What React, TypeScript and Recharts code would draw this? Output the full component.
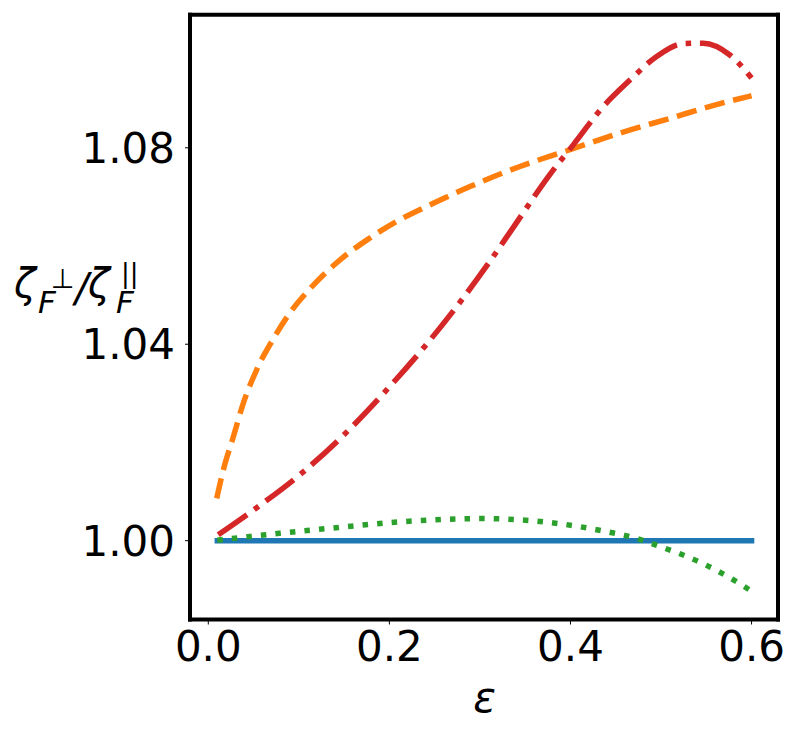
import React from 'react';
import { LineChart, Line, XAxis, YAxis } from 'recharts';

// ε values and ratio values for each curve
const blueX = [0.01, 0.6];
const blueY = [1.0, 1.0];

const orangeX = [0.0093, 0.0166, 0.0276, 0.0387, 0.0534, 0.0718, 0.0902, 0.1123, 0.1418, 0.1749, 0.2081, 0.2485, 0.289, 0.3442, 0.3994, 0.4546, 0.5099, 0.5651, 0.6];
const orangeY = [1.0086, 1.0144, 1.0211, 1.028, 1.0348, 1.0411, 1.0464, 1.0513, 1.0566, 1.0612, 1.065, 1.0687, 1.0721, 1.0762, 1.0796, 1.083, 1.086, 1.089, 1.0906];

const greenX = [0.01, 0.0783, 0.144, 0.2097, 0.2733, 0.3061, 0.339, 0.3862, 0.4355, 0.4684, 0.4992, 0.5443, 0.5874, 0.6];
const greenY = [1.0001, 1.0015, 1.0027, 1.0038, 1.0044, 1.0045, 1.0043, 1.0035, 1.002, 1.0007, 0.9988, 0.9955, 0.9912, 0.9897];

const redX = [0.011, 0.0534, 0.1049, 0.1528, 0.197, 0.2393, 0.2798, 0.3111, 0.3369, 0.3774, 0.4031, 0.4362, 0.4657, 0.4952, 0.5246, 0.5467, 0.5761, 0.6];
const redY = [1.0012, 1.0067, 1.014, 1.0221, 1.0307, 1.0396, 1.049, 1.0569, 1.0638, 1.0746, 1.0806, 1.0884, 1.0938, 1.0986, 1.1012, 1.1013, 1.0989, 1.0942];

const xTicks = [0.0, 0.2, 0.4, 0.6];
const yTicks = [1.0, 1.04, 1.08];
const xDomain = [-0.0202, 0.6292];
const yDomain = [0.98395, 1.1071];

const toPoints = (xs: number[], ys: number[]) => xs.map((x, i) => ({ x, y: ys[i] }));

const blueData = toPoints(blueX, blueY);
const orangeData = toPoints(orangeX, orangeY);
const greenData = toPoints(greenX, greenY);
const redData = toPoints(redX, redY);

const FONT = 'DejaVu Sans';
const LW = 5.5;
const frameLine = { stroke: '#000', strokeWidth: 4, strokeLinecap: 'square' as const };

export default function App() {
  return (
    <div style={{ position: 'absolute', left: 0, top: 0, width: 800, height: 737, background: '#fff' }}>
      <LineChart width={800} height={737} margin={{ top: 13.7, right: 21, left: 0, bottom: 0 }}>
        <XAxis
          dataKey="x"
          type="number"
          domain={xDomain}
          ticks={xTicks}
          allowDataOverflow
          height={117.5}
          axisLine={frameLine}
          tickSize={5}
          tickMargin={7}
          tickLine={{ stroke: '#000', strokeWidth: 1 }}
          tick={{ fill: '#000', fontSize: 42, fontFamily: FONT }}
          tickFormatter={(v: number) => v.toFixed(1)}
        />
        <XAxis
          xAxisId="top"
          orientation="top"
          dataKey="x"
          type="number"
          domain={xDomain}
          allowDataOverflow
          height={1}
          axisLine={frameLine}
          tick={false}
          tickLine={false}
        />
        <YAxis
          dataKey="y"
          type="number"
          domain={yDomain}
          ticks={yTicks}
          allowDataOverflow
          width={190}
          axisLine={frameLine}
          tickSize={5}
          tickMargin={10}
          tickLine={{ stroke: '#000', strokeWidth: 1 }}
          tick={{ fill: '#000', fontSize: 42, fontFamily: FONT }}
          tickFormatter={(v: number) => v.toFixed(2)}
        />
        <YAxis
          yAxisId="right"
          orientation="right"
          dataKey="y"
          type="number"
          domain={yDomain}
          allowDataOverflow
          width={1}
          axisLine={frameLine}
          tick={false}
          tickLine={false}
        />
        <Line data={blueData} dataKey="y" type="linear" stroke="#1f77b4" strokeWidth={LW} dot={false} isAnimationActive={false} strokeLinecap="square" />
        <Line data={orangeData} dataKey="y" type="monotone" stroke="#ff7f0e" strokeWidth={LW} strokeDasharray="20.4 8.8" dot={false} isAnimationActive={false} />
        <Line data={greenData} dataKey="y" type="monotone" stroke="#2ca02c" strokeWidth={LW} strokeDasharray="5.5 9.1" dot={false} isAnimationActive={false} />
        <Line data={redData} dataKey="y" type="monotone" stroke="#d62728" strokeWidth={LW} strokeDasharray="35.2 8.8 5.5 8.8" dot={false} isAnimationActive={false} />
      </LineChart>
      <svg width={800} height={737} style={{ position: 'absolute', left: 0, top: 0, pointerEvents: 'none' }}>
        <g fontFamily={FONT} fill="#000">
          <text fontSize={40}>
            <tspan x={14} y={297} fontStyle="italic">ζ</tspan>
            <tspan x={38} y={313} fontSize={31} fontStyle="italic">F</tspan>
            <tspan x={51} y={288} fontSize={27}>⊥</tspan>
            <tspan x={75} y={302} fontStyle="italic">/</tspan>
            <tspan x={88} y={297} fontStyle="italic">ζ</tspan>
            <tspan x={116} y={313} fontSize={31} fontStyle="italic">F</tspan>
            <tspan x={121} y={282} fontSize={26}>||</tspan>
          </text>
          <text x={484.5} y={712} fontSize={42} fontStyle="italic" textAnchor="middle">ε</text>
        </g>
      </svg>
    </div>
  );
}
